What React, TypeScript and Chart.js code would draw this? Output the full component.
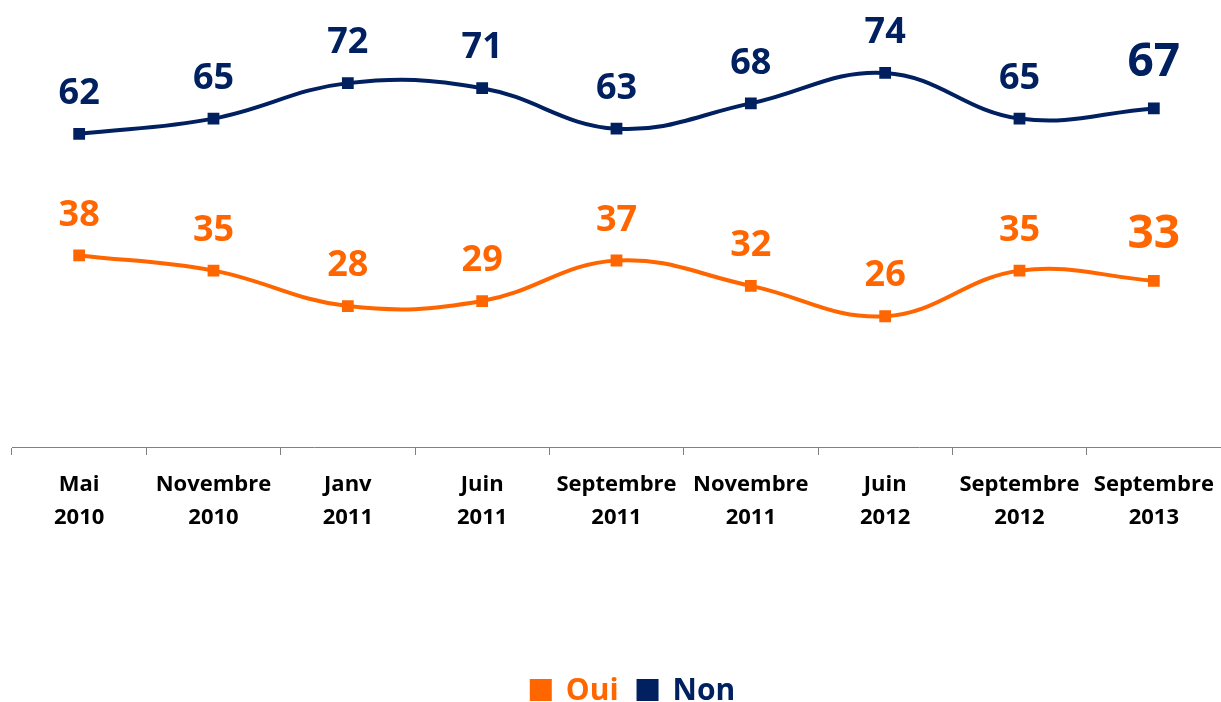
import React, { useEffect, useRef } from "react";
import { Chart, registerables } from "chart.js";

Chart.register(...registerables);

const categories: string[][] = [
  ["Mai", "2010"],
  ["Novembre", "2010"],
  ["Janv", "2011"],
  ["Juin", "2011"],
  ["Septembre", "2011"],
  ["Novembre", "2011"],
  ["Juin", "2012"],
  ["Septembre", "2012"],
  ["Septembre", "2013"],
];
const ouiValues = [38, 35, 28, 29, 37, 32, 26, 35, 33];
const nonValues = [62, 65, 72, 71, 63, 68, 74, 65, 67];

const OUI_COLOR = "#FF6600";
const NON_COLOR = "#002060";
const FONT = "'Open Sans', 'Noto Sans', sans-serif";

const labelPlugin = {
  id: "valueLabels",
  afterDatasetsDraw(chart: any) {
    const ctx = chart.ctx;
    ctx.save();
    ctx.textAlign = "center";
    ctx.textBaseline = "middle";
    chart.data.datasets.forEach((ds: any, di: number) => {
      const meta = chart.getDatasetMeta(di);
      meta.data.forEach((pt: any, i: number) => {
        const last = i === meta.data.length - 1;
        const size = last ? 46 : 36;
        ctx.font = `bold ${size}px ${FONT}`;
        ctx.fillStyle = ds.borderColor;
        ctx.fillText(String(ds.data[i]), pt.x, pt.y - (last ? 46 : 40));
      });
    });
    ctx.restore();
  },
};

const legendPlugin = {
  id: "customLegend",
  afterDraw(chart: any) {
    const ctx = chart.ctx;
    ctx.save();
    ctx.font = `bold 30px ${FONT}`;
    ctx.textBaseline = "middle";
    ctx.textAlign = "left";
    const items = chart.data.datasets.map((ds: any) => ({ text: ds.label, color: ds.borderColor }));
    const box = 22;
    const gapBox = 14;
    const gapItem = 18;
    let total = 0;
    items.forEach((it: any, i: number) => {
      total += box + gapBox + ctx.measureText(it.text).width + (i < items.length - 1 ? gapItem : 0);
    });
    let x = chart.width / 2 + 22 - total / 2;
    const cy = 690;
    items.forEach((it: any) => {
      ctx.fillStyle = it.color;
      ctx.fillRect(x, cy - box / 2, box, box);
      x += box + gapBox;
      ctx.fillText(it.text, x, cy + 1);
      x += ctx.measureText(it.text).width + gapItem;
    });
    ctx.restore();
  },
};

export default function App() {
  const ref = useRef<HTMLCanvasElement | null>(null);
  useEffect(() => {
    if (!ref.current) return;
    const chart = new Chart(ref.current, {
      type: "line",
      data: {
        labels: categories,
        datasets: [
          {
            label: "Oui",
            data: ouiValues,
            borderColor: OUI_COLOR,
            backgroundColor: OUI_COLOR,
            borderWidth: 4,
            pointStyle: "rect",
            pointRadius: 5.5,
            tension: 0.4,
          },
          {
            label: "Non",
            data: nonValues,
            borderColor: NON_COLOR,
            backgroundColor: NON_COLOR,
            borderWidth: 4,
            pointStyle: "rect",
            pointRadius: 5.5,
            tension: 0.4,
          },
        ],
      },
      options: {
        animation: false,
        responsive: false,
        maintainAspectRatio: false,
        devicePixelRatio: 1,
        layout: { autoPadding: false, padding: { left: 12, right: 0, top: 0, bottom: 155 } },
        plugins: { legend: { display: false }, tooltip: { enabled: false } },
        scales: {
          x: {
            offset: true,
            afterFit: (scale: any) => {
              scale.paddingLeft = 0;
              scale.paddingRight = 0;
            },
            grid: {
              offset: true,
              drawOnChartArea: false,
              drawTicks: true,
              tickLength: 8,
              color: "#808080",
              lineWidth: 1,
            },
            border: { display: true, color: "#808080", width: 1 },
            ticks: {
              color: "#000000",
              font: { family: FONT, size: 22, weight: "bold", lineHeight: 1.5 },
              padding: 13,
              maxRotation: 0,
              autoSkip: false,
            },
          },
          y: {
            display: false,
            min: 0.2,
            max: 88.4,
          },
        },
      },
      plugins: [labelPlugin, legendPlugin],
    });
    return () => chart.destroy();
  }, []);
  return (
    <div style={{ position: "absolute", left: 0, top: 0, width: 1221, height: 702, background: "#fff" }}>
      <canvas ref={ref} width={1221} height={702} style={{ display: "block", width: 1221, height: 702 }} />
    </div>
  );
}
